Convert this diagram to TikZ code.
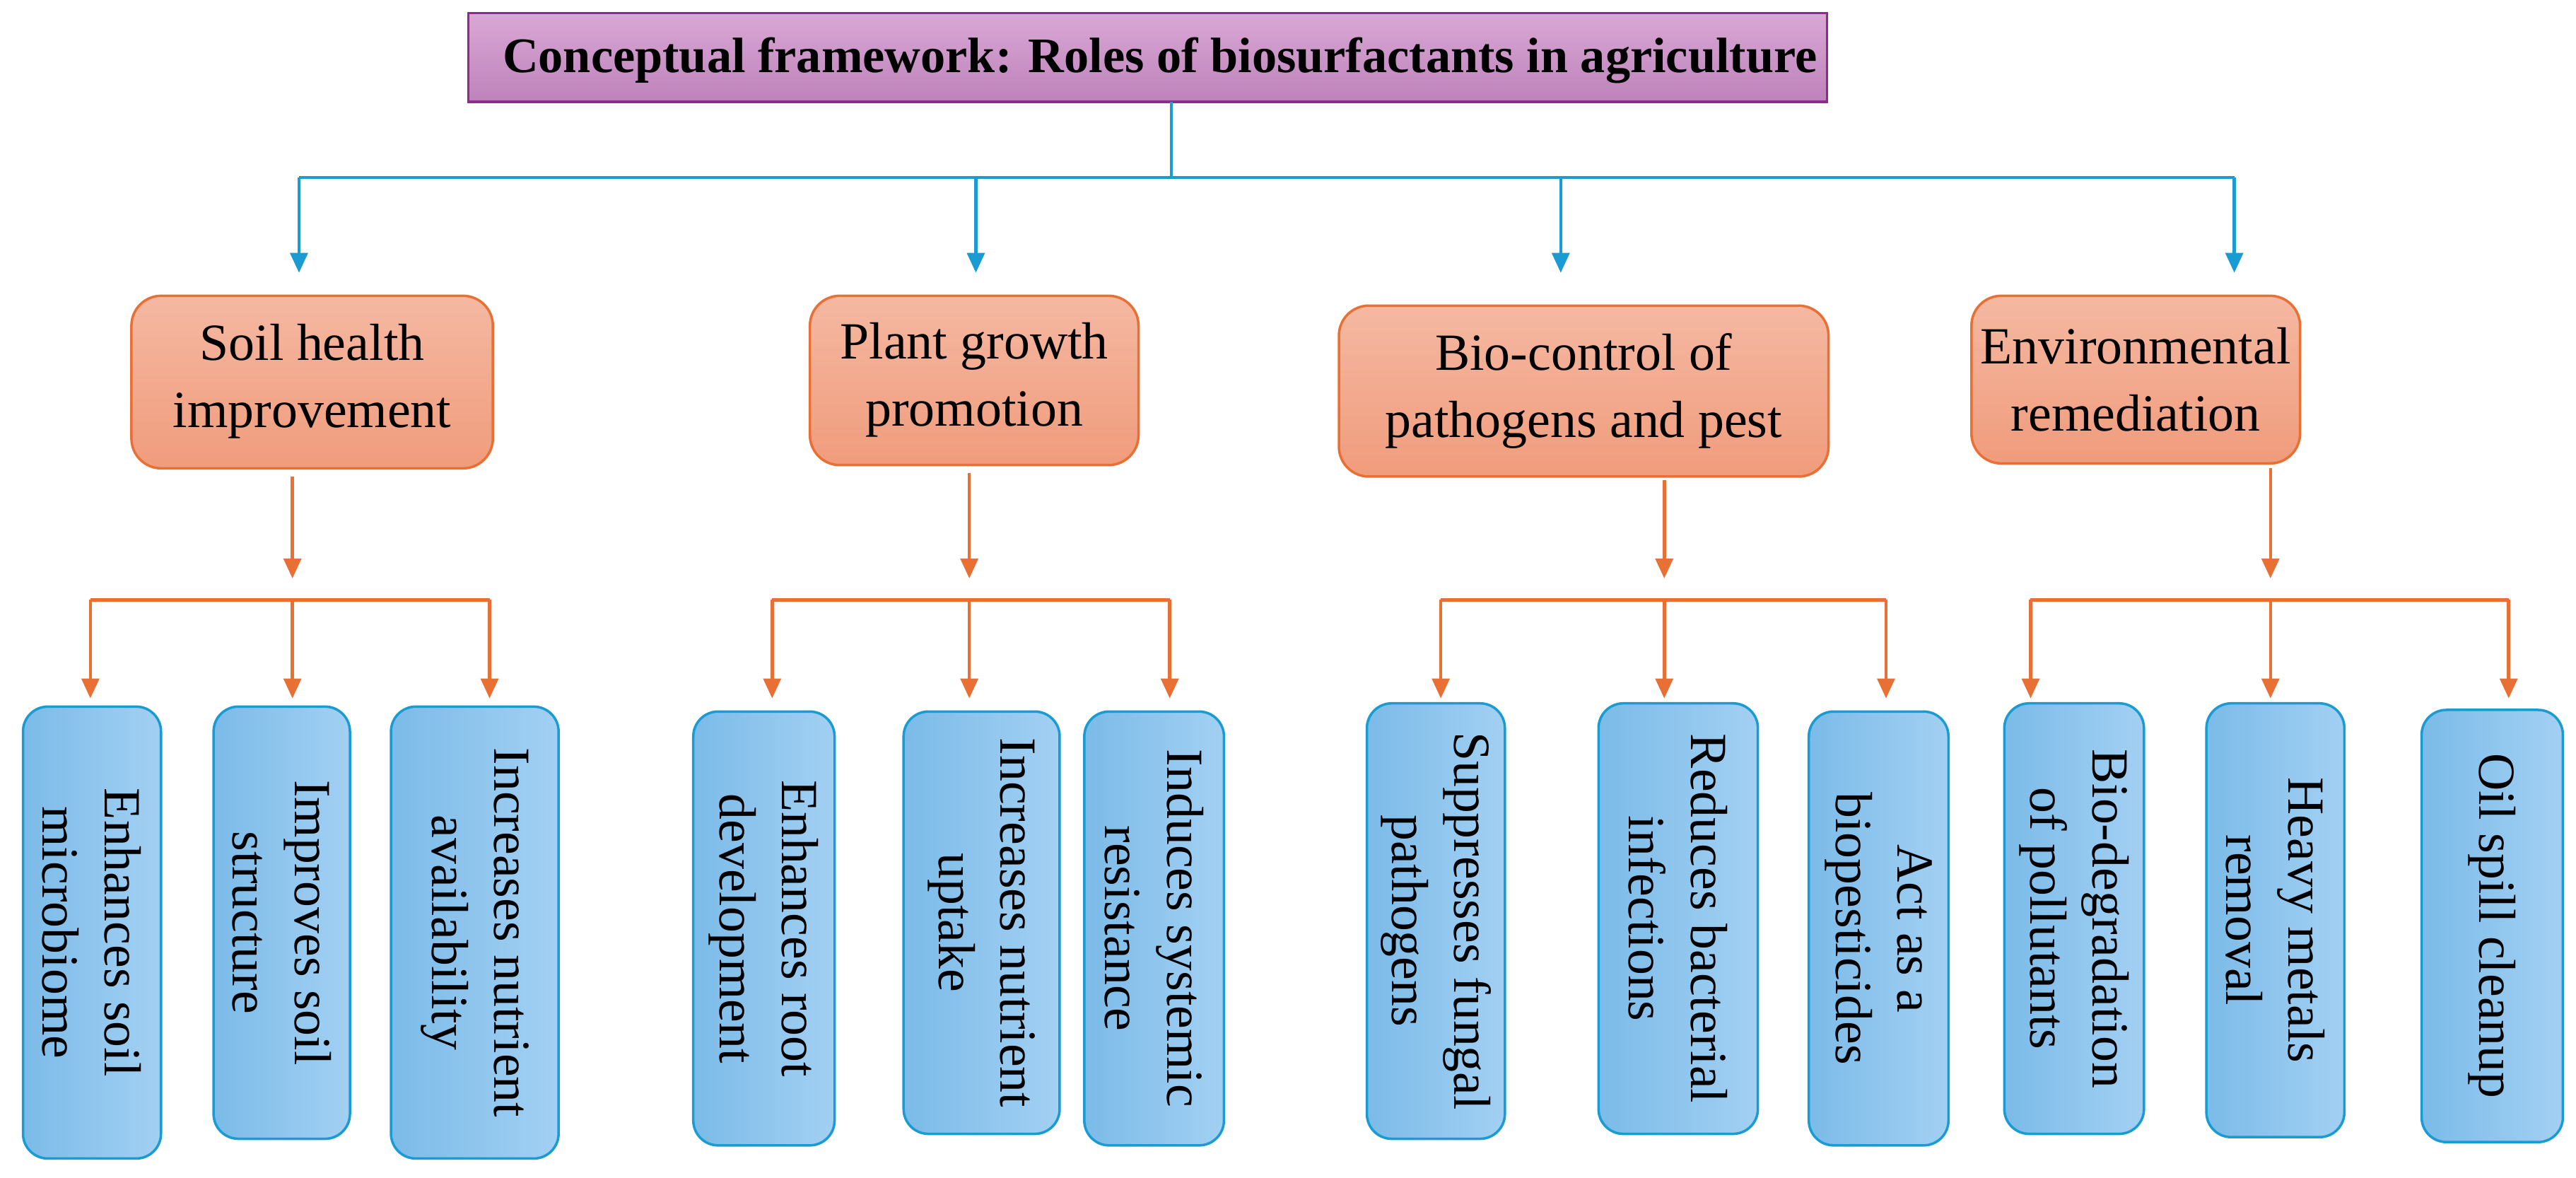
\documentclass[tikz,border=0pt]{standalone}
\usepackage{fontspec}
\setmainfont{Liberation Serif}
\usetikzlibrary{arrows.meta}
\definecolor{bl}{HTML}{1A9BD1}
\definecolor{orn}{HTML}{E87035}
\definecolor{pur}{HTML}{8E2C8E}
\definecolor{pt}{HTML}{D9A8D5}
\definecolor{pb}{HTML}{BD82BA}
\definecolor{st}{HTML}{F5B8A2}
\definecolor{sb}{HTML}{F09C7C}
\definecolor{ll}{HTML}{7BBBE8}
\definecolor{lr}{HTML}{A3D0F3}
\begin{document}
\begin{tikzpicture}[x=0.02324cm,y=-0.02324cm,
 title/.style={draw=pur,line width=1pt,top color=pt,bottom color=pb},
 cat/.style={draw=orn,line width=1pt,rounded corners=12pt,top color=st,bottom color=sb},
 leaf/.style={draw=bl,line width=1pt,rounded corners=10pt,left color=ll,right color=lr},
 ctxt/.style={align=center,font=\fontsize{21}{27}\selectfont},
 ltxt/.style={rotate=-90,align=center,font=\fontsize{21}{25}\selectfont},
 ba/.style={draw=bl,line width=1.3pt,-{Triangle[width=7pt,length=8pt]}},
 oa/.style={draw=orn,line width=1.3pt,-{Triangle[width=7pt,length=8pt]}},
 bln/.style={draw=bl,line width=1.3pt},
 oln/.style={draw=orn,line width=1.3pt}]
\useasboundingbox (0,0) rectangle (1568,716.5);
\path[title] (285,8) rectangle (1112,62);
\node[font=\fontsize{20}{24}\selectfont\bfseries] (T) at (706,37) {Conceptual framework: Roles of biosurfactants in agriculture};
\coordinate (Tb) at (713,62);
% categories
\path[cat] (80,180) rectangle (300,285); \node[ctxt] (C1) at (190,232) {Soil health\\improvement};
\path[cat] (493,180) rectangle (693,283); \node[ctxt] (C2) at (593,231) {Plant growth\\promotion};
\path[cat] (815,186) rectangle (1113,290); \node[ctxt] (C3) at (964,238) {Bio-control of\\pathogens and pest};
\path[cat] (1200,180) rectangle (1400,282); \node[ctxt] (C4) at (1300,231) {Environmental\\remediation};
% blue connectors
\coordinate (H) at (713,108);
\draw[bln] (Tb) -- (H);
\draw[bln] (182,108) -- (1360,108);
\foreach \x in {182,594,950,1360} \draw[ba] (\x,108) -- (\x,166);
% orange
\foreach \x/\a/\b/\yt in {178/55/298/290, 590/470/712/288, 1013/877/1148/292, 1382/1236/1527/285}{
  \draw[oa] (\x,\yt) -- (\x,352);
  \draw[oln] (\a,365) -- (\b,365);
  \foreach \z in {\a,\x,\b} \draw[oa] (\z,365) -- (\z,425);
}
% leaves
\foreach \n/\l/\r/\t/\bt/\txt in {
 L1/14/98/430/705/{Enhances soil\\microbiome},
 L2/130/213/430/693/{Improves soil\\structure},
 L3/238/340/430/705/{Increases nutrient\\availability},
 L4/422/508/433/697/{Enhances root\\development},
 L5/550/645/433/690/{Increases nutrient\\uptake},
 L6/660/745/433/697/{Induces systemic\\resistance},
 L7/832/916/428/693/{Suppresses fungal\\pathogens},
 L8/973/1070/428/690/{Reduces bacterial\\infections},
 L9/1101/1186/433/697/{Act as a\\biopesticides},
 L10/1220/1305/428/690/{Bio-degradation\\of pollutants},
 L11/1343/1427/428/692/{Heavy metals\\removal},
 L12/1474/1560/432/695/{Oil spill cleanup}}{
  \path[leaf] (\l,\t) rectangle (\r,\bt);
  \node[ltxt] (\n) at ({(\l+\r)/2},{(\t+\bt)/2}) {\txt};
}
\end{tikzpicture}
\end{document}
